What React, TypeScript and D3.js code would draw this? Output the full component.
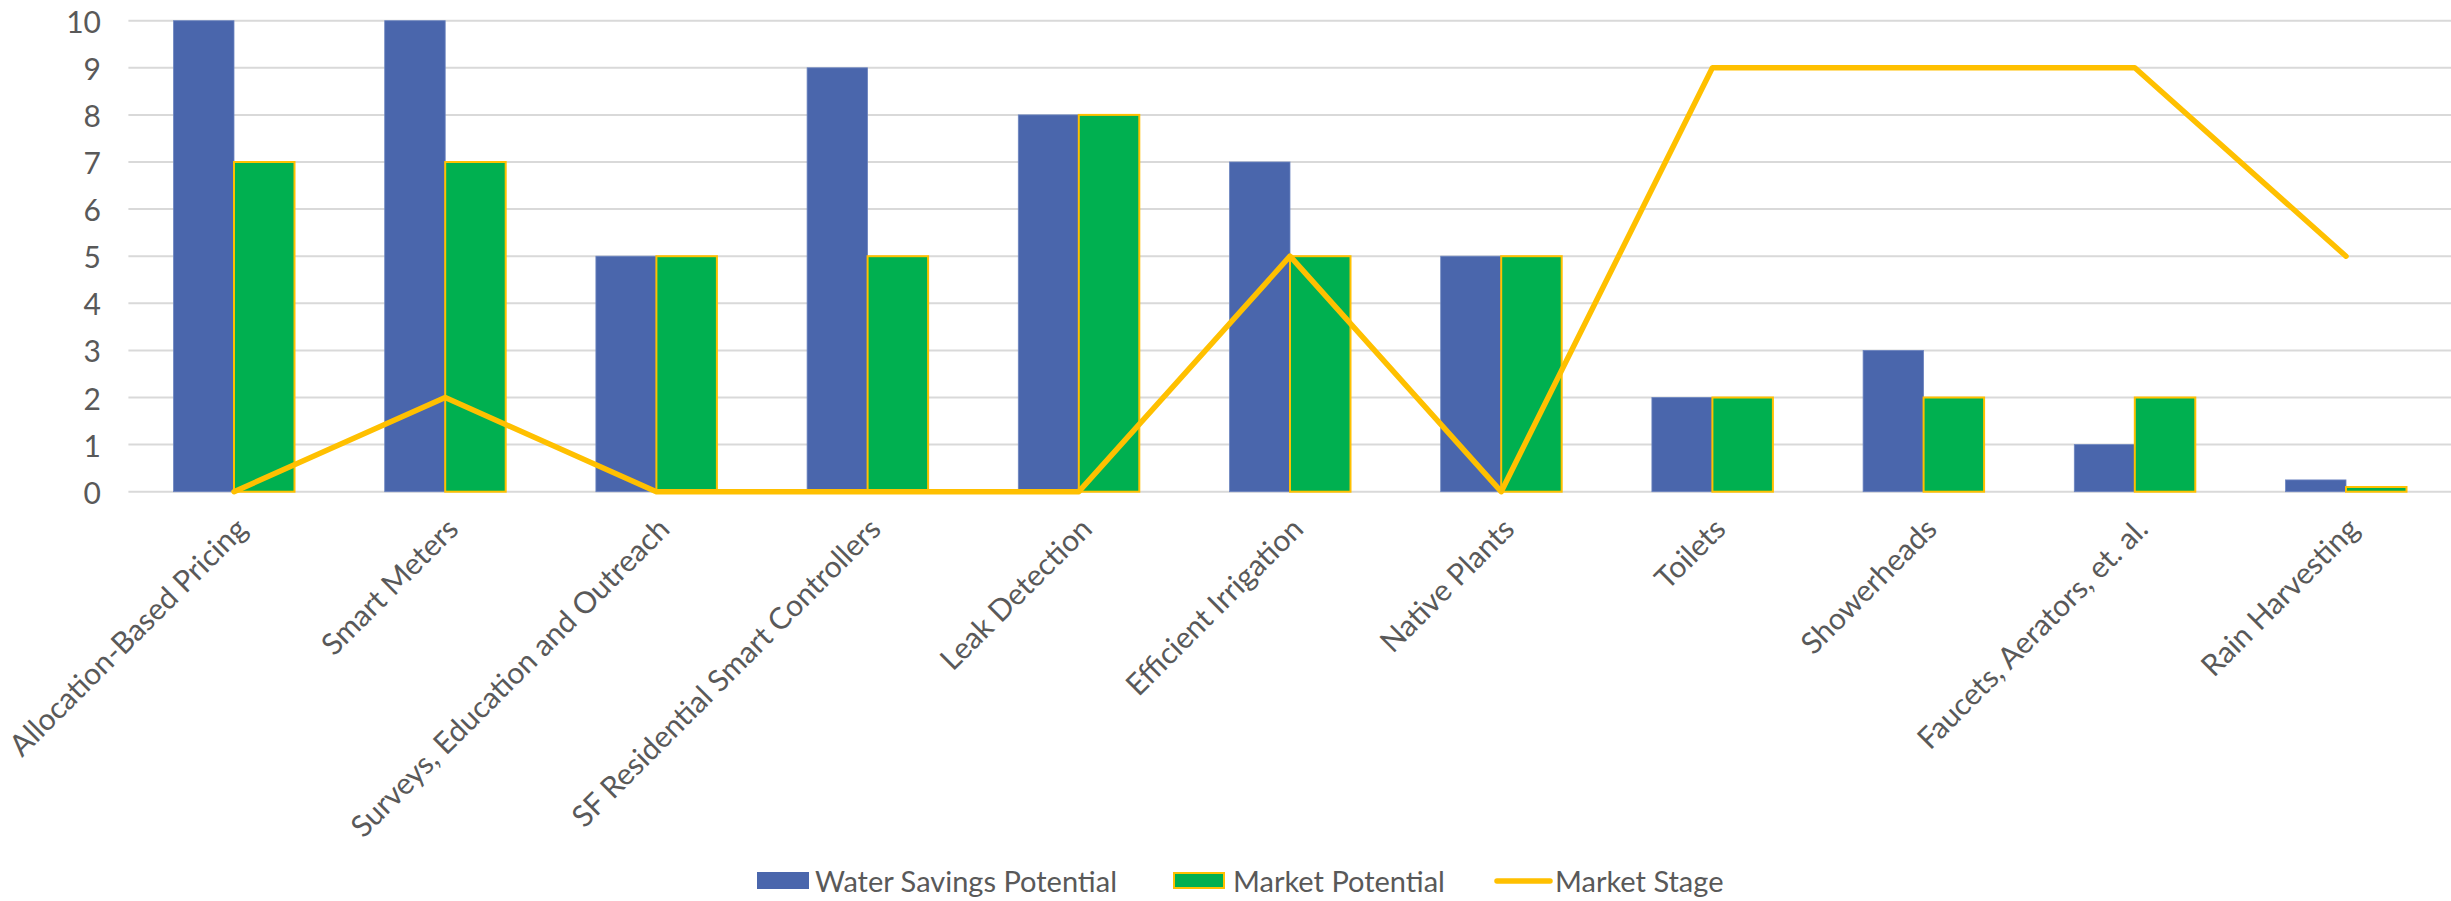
import React, { useEffect } from "react";
import * as d3 from "d3";

const categories = [
  "Allocation-Based Pricing",
  "Smart Meters",
  "Surveys, Education and Outreach",
  "SF Residential Smart Controllers",
  "Leak Detection",
  "Efficient Irrigation",
  "Native Plants",
  "Toilets",
  "Showerheads",
  "Faucets, Aerators, et. al.",
  "Rain Harvesting",
];
const waterSavings = [10, 10, 5, 9, 8, 7, 5, 2, 3, 1, 0.25];
const marketPotential = [7, 7, 5, 5, 8, 5, 5, 2, 2, 2, 0.1];
const marketStage = [0, 2, 0, 0, 0, 5, 0, 9, 9, 9, 5];
const yTicks = [0, 1, 2, 3, 4, 5, 6, 7, 8, 9, 10];
const seriesNames = ["Water Savings Potential", "Market Potential", "Market Stage"];

const W = 2451;
const H = 901;
const FONT = "Lato, 'Open Sans', sans-serif";
const TEXT = "#595959";
const BLUE = "#4A66AC";
const GREEN = "#00B050";
const GOLD = "#FFC000";

export default function App() {
  useEffect(() => {
    document.body.style.margin = "0";
  }, []);

  const x = d3.scaleBand<string>().domain(categories).range([128.4, 2451.6]).paddingInner(0).paddingOuter(0);
  const bw = x.bandwidth();
  const barW = 60.5;
  const y = d3.scaleLinear().domain([0, 10]).range([491.7, 20.7]);
  const cx = (c: string) => (x(c) as number) + bw / 2;

  const line = d3
    .line<number>()
    .x((_, i) => cx(categories[i]))
    .y((d) => y(d));

  return (
    <svg width={W} height={H} style={{ display: "block", position: "absolute", left: 0, top: 0 }} fontFamily={FONT}>
      <rect width={W} height={H} fill="#fff" />
      {yTicks.map((t) => (
        <g key={t}>
          <line x1={128.4} x2={2451} y1={y(t)} y2={y(t)} stroke="#D9D9D9" strokeWidth={2} />
          <text x={101} y={y(t)} textAnchor="end" dominantBaseline="central" fontSize={30} fill={TEXT}>
            {t}
          </text>
        </g>
      ))}
      {categories.map((c, i) => (
        <g key={c}>
          <rect x={cx(c) - barW} y={y(waterSavings[i])} width={barW} height={y(0) - y(waterSavings[i])} fill={BLUE} stroke="#6D85C0" strokeWidth={0.8} />
          <rect x={cx(c)} y={y(marketPotential[i])} width={barW} height={y(0) - y(marketPotential[i])} fill={GREEN} stroke={GOLD} strokeWidth={2} />
        </g>
      ))}
      <path d={line(marketStage) || ""} fill="none" stroke={GOLD} strokeWidth={5.5} strokeLinejoin="round" strokeLinecap="round" />
      {categories.map((c) => (
        <text
          key={"l" + c}
          transform={`translate(${cx(c) + 15},531) rotate(-45)`}
          textAnchor="end"
          fontSize={30}
          fill={TEXT}
        >
          {c}
        </text>
      ))}
      {/* legend */}
      <g>
        <rect x={757} y={872} width={52} height={17} fill={BLUE} />
        <text x={815} y={892} fontSize={29} fill={TEXT}>{seriesNames[0]}</text>
        <rect x={1174} y={873} width={50} height={15} fill={GREEN} stroke={GOLD} strokeWidth={2} />
        <text x={1233} y={892} fontSize={29} fill={TEXT}>{seriesNames[1]}</text>
        <line x1={1497} x2={1550} y1={881} y2={881} stroke={GOLD} strokeWidth={5.5} strokeLinecap="round" />
        <text x={1555} y={892} fontSize={29} fill={TEXT}>{seriesNames[2]}</text>
      </g>
    </svg>
  );
}
